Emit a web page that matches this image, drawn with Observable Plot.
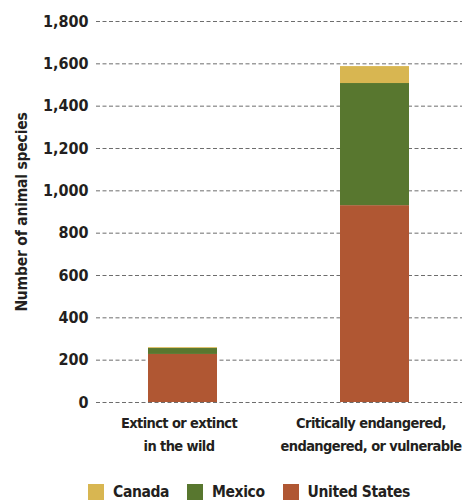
<!DOCTYPE html>
<html><head><meta charset="utf-8">
<script src="https://cdn.jsdelivr.net/npm/d3@7"></script>
<script src="https://cdn.jsdelivr.net/npm/@observablehq/plot@0.6"></script>
<style>
body{margin:0;background:#fff;font-family:"Liberation Sans Narrow","DejaVu Sans Condensed",sans-serif;font-weight:bold;color:#231f20}
#legend{display:flex;justify-content:center;gap:18px;font-size:15.5px;letter-spacing:-0.4px;margin-top:6px;height:20px;align-items:center;padding-left:30px}
#legend span.sw{display:inline-block;width:16px;height:16px;margin-right:9px;vertical-align:middle;position:relative;top:-1px}
g[aria-label="x-axis tick label"] text{letter-spacing:-0.6px}
g[aria-label="y-axis label"] text{letter-spacing:-0.2px}
</style></head><body>
<div id="chart"></div>
<div id="legend"></div>
<script>
const categories = ["Extinct or extinct\nin the wild", "Critically endangered,\nendangered, or vulnerable"];
const countries = ["Canada", "Mexico", "United States"];
const canada = [4, 80];
const mexico = [28, 577];
const unitedStates = [227, 930];
const yTicks = [0,200,400,600,800,1000,1200,1400,1600,1800];
const colors = ["#d8b651", "#58772f", "#b05733"];

const series = {"Canada": canada, "Mexico": mexico, "United States": unitedStates};
const data = [];
for (const c of ["United States","Mexico","Canada"]) categories.forEach((cat,i)=>data.push({category:cat, country:c, value:series[c][i]}));

const plot = Plot.plot({
  width: 468, height: 476,
  marginLeft: 96, marginRight: 6, marginTop: 21, marginBottom: 74,
  style:{fontFamily:'"Liberation Sans Narrow","DejaVu Sans Condensed",sans-serif', fontWeight:"bold", fontSize:"16px", color:"#231f20"},
  x:{domain:categories, padding:0.64, paddingOuter:0.27, label:null},
  y:{domain:[0,1800], label:null},
  color:{domain:countries, range:colors},
  marks:[
    Plot.ruleY(yTicks, {stroke:"#6d6d6d", strokeWidth:1, strokeDasharray:"4,2.5"}),
    Plot.barY(data, {x:"category", y:"value", fill:"country", order:["United States","Mexico","Canada"]}),
    Plot.axisY({ticks:yTicks, tickSize:0, tickPadding:8, tickFormat:d=>d3.format(",")(d), fontSize:16,
      label:"Number of animal species", labelAnchor:"center", labelOffset:81, labelArrow:"none"}),
    Plot.axisX({tickSize:0, tickPadding:10, fontSize:14.5, lineHeight:1.55, dx:-4, label:null})
  ]
});
document.getElementById("chart").append(plot);
plot.querySelectorAll('g[aria-label="y-axis label"] text').forEach(t=>t.setAttribute("font-size","15.5"));
const lg = document.getElementById("legend");
countries.forEach((c,i)=>{const d=document.createElement("div");d.innerHTML=`<span class="sw" style="background:${colors[i]}"></span>${c}`;lg.append(d);});
</script></body></html>
